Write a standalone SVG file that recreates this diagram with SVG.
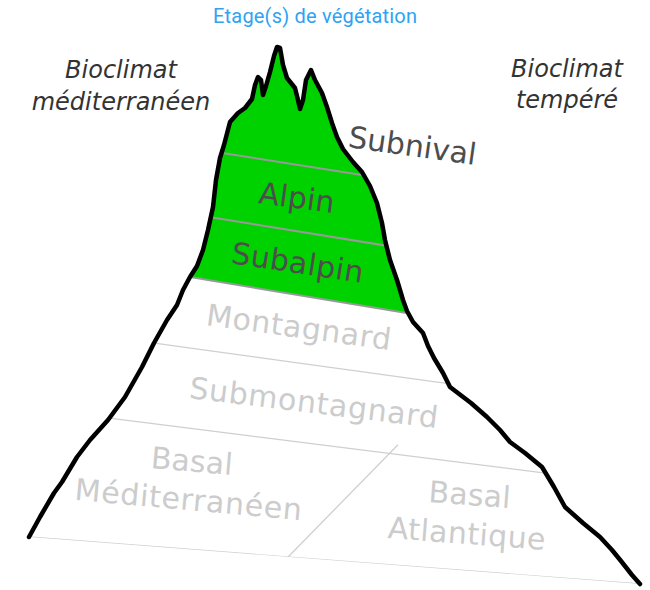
<svg xmlns="http://www.w3.org/2000/svg" width="650" height="590" viewBox="0 0 650 590">
  <style>
    .outline { fill: none; stroke: #000; stroke-width: 4.5; stroke-linejoin: round; stroke-linecap: round; }
    .gline { stroke: #999; stroke-width: 2; fill: none; }
    .lline { stroke: #cfcfcf; stroke-width: 1.3; fill: none; }
    .lbl { font-family: "DejaVu Sans", sans-serif; font-size: 30px; text-anchor: middle; }
    .dark { fill: #4d4d4d; }
    .light { fill: #cccccc; }
    .bio { font-family: "DejaVu Sans", sans-serif; font-style: italic; font-size: 24px; fill: #333; text-anchor: middle; }
    .title { font-family: Roboto, "Liberation Sans", sans-serif; font-size: 20px; fill: #2ea3f2; text-anchor: middle; }
  </style>
  <defs>
    <path id="mountain" d="M29,537 L40,517 L54,493 L62,482 L77,457 L90,440 L108,420 L125,397 L142,367 L154,343 L167,320 L177,305 L183,290 L190,277 L197,266 L203,250 L208,230 L213,207 L216,180 L220,158 L224,145 L230,122 L238,113 L245,108 L252,99 L255,85 L258,77 L261,80 L263,95 L266,86 L270,72 L274,56 L277,47 L280,48 L283,65 L287,78 L295,88 L298,100 L300,109 L303,100 L306,80 L311,70 L315,80 L322,93 L327,107 L332,123 L337,137 L343,149 L353,162 L362,172 L370,186 L377,203 L382,223 L385,240 L390,260 L397,280 L403,300 L407,311 L413,322 L423,333 L428,346 L434,358 L443,373 L450,387 L471,403 L487,417 L500,430 L510,442 L525,453 L542,467 L554,487 L565,507 L583,523 L600,537 L612,550 L621,561 L632,575 L640,584"/>
    <clipPath id="clipM">
      <use href="#mountain"/>
    </clipPath>
  </defs>

  <rect width="650" height="590" fill="#fff"/>

  <g id="zones" clip-path="url(#clipM)">
    <polygon id="green-zone" points="0,0 650,0 650,353.4 0,245.5" fill="#00d200"/>
  </g>

  <g id="connectors" clip-path="url(#clipM)">
    <line class="gline" x1="100" y1="133.6" x2="500" y2="196.8"/>
    <line class="gline" x1="100" y1="199.3" x2="500" y2="264.1"/>
    <line class="gline" x1="100" y1="262.1" x2="500" y2="328.5"/>
    <line class="lline" x1="40" y1="327.3" x2="600" y2="404.5"/>
    <line class="lline" x1="20" y1="406.9" x2="640" y2="485.1"/>
    <line class="lline" x1="398" y1="444.8" x2="278" y2="567.2"/>
    <line class="lline" x1="29" y1="537" x2="640" y2="584"/>
  </g>

  <g id="mountain-outline">
    <use href="#mountain" class="outline"/>
  </g>

  <g id="title">
    <text class="title" x="315" y="23" textLength="204" lengthAdjust="spacing">Etage(s) de végétation</text>
  </g>
  <g id="bioclimat-med">
    <text class="bio" x="121" y="78">Bioclimat</text>
    <text class="bio" x="121" y="110">méditerranéen</text>
  </g>
  <g id="bioclimat-temp">
    <text class="bio" x="567" y="77">Bioclimat</text>
    <text class="bio" x="567" y="108">tempéré</text>
  </g>

  <g id="subnival">
    <text class="lbl dark" x="411" y="156" transform="rotate(8 411 156)" textLength="129" lengthAdjust="spacing">Subnival</text>
  </g>
  <g id="alpin">
    <text class="lbl dark" x="295.5" y="208" transform="rotate(7.6 295.5 208)" textLength="76" lengthAdjust="spacing">Alpin</text>
  </g>
  <g id="subalpin">
    <text class="lbl dark" x="296" y="273" transform="rotate(8.6 296 273)" textLength="133" lengthAdjust="spacing">Subalpin</text>
  </g>
  <g id="montagnard">
    <text class="lbl light" x="297.5" y="337.5" transform="rotate(7.7 297.5 337.5)" textLength="186" lengthAdjust="spacing">Montagnard</text>
  </g>
  <g id="submontagnard">
    <text class="lbl light" x="312.5" y="413" transform="rotate(6.9 312.5 413)" textLength="250" lengthAdjust="spacing">Submontagnard</text>
  </g>
  <g id="basal-med">
    <text class="lbl light" x="191" y="471.5" transform="rotate(4.9 191 471.5)" textLength="82" lengthAdjust="spacing">Basal</text>
    <text class="lbl light" x="187.5" y="510" transform="rotate(5.1 187.5 510)" textLength="228" lengthAdjust="spacing">Méditerranéen</text>
  </g>
  <g id="basal-atl">
    <text class="lbl light" x="469" y="505" transform="rotate(4.2 469 505)" textLength="82" lengthAdjust="spacing">Basal</text>
    <text class="lbl light" x="466" y="544" transform="rotate(4.3 466 544)" textLength="158" lengthAdjust="spacing">Atlantique</text>
  </g>
</svg>
